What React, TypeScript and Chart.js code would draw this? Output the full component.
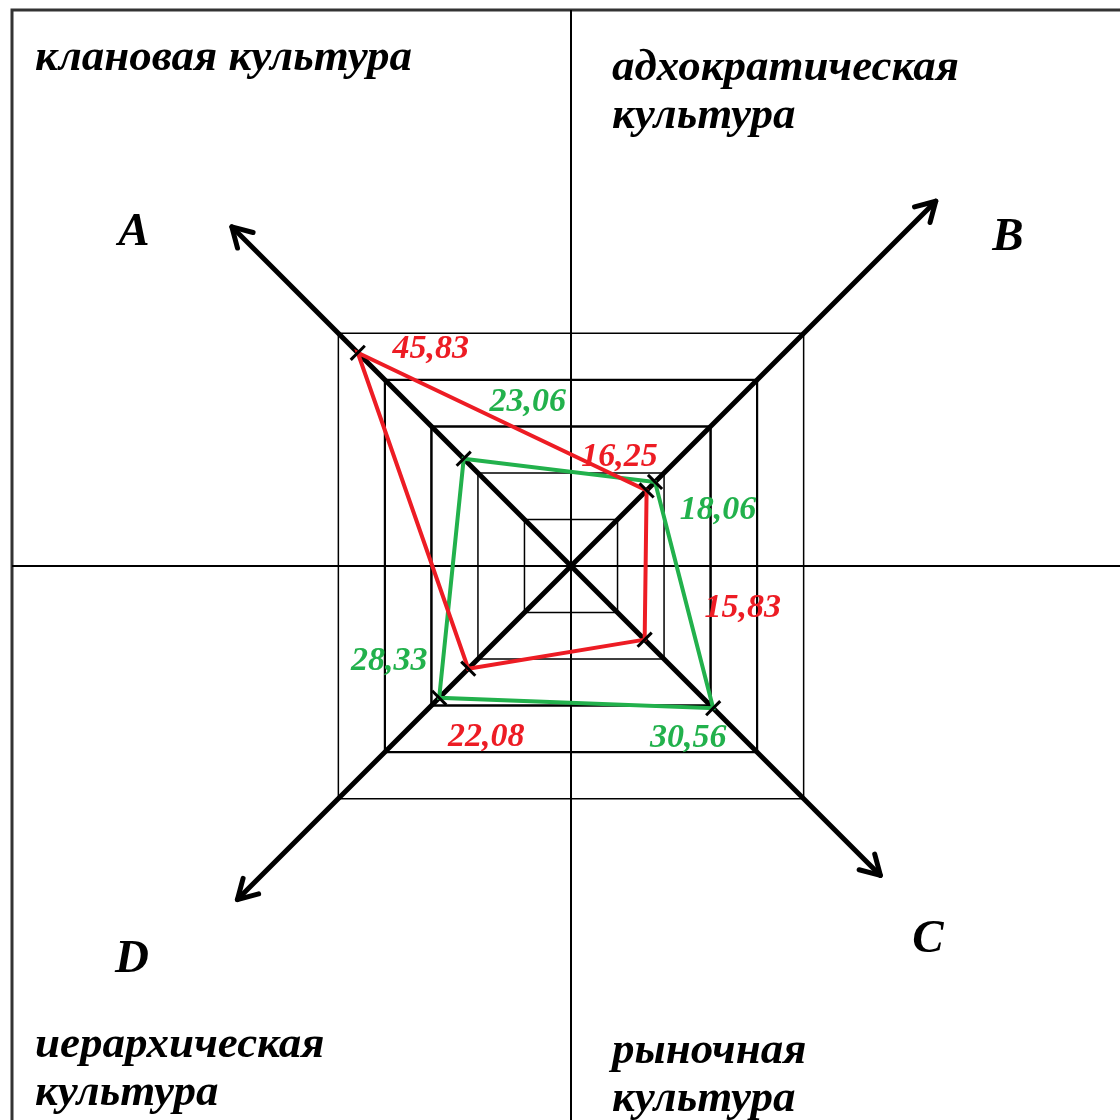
import React, { useEffect, useRef } from 'react';
import { Chart, registerables } from 'chart.js';

Chart.register(...registerables);

// ---------- data ----------
const AXIS_LABELS = ['A', 'B', 'C', 'D'];
const RED_VALUES = [45.83, 16.25, 15.83, 22.08];
const GREEN_VALUES = [23.06, 18.06, 30.56, 28.33];
const SCALE_MIN = 0;
const SCALE_MAX = 50;
const SCALE_STEP = 10;
const TITLE_TOP_LEFT = ['клановая культура'];
const TITLE_TOP_RIGHT = ['адхократическая', 'культура'];
const TITLE_BOTTOM_RIGHT = ['рыночная', 'культура'];
const TITLE_BOTTOM_LEFT = ['иерархическая', 'культура'];

// ---------- layout / style ----------
const W = 1120;
const H = 1120;
const RED = '#ED1C24';
const GREEN = '#22B14C';
const SERIF = '"Liberation Serif", "Times New Roman", serif';
const TITLE_FONT = `italic bold 45px ${SERIF}`;
const LETTER_FONT = `italic bold 47px ${SERIF}`;
const VALUE_FONT = `italic bold 34px ${SERIF}`;
const GRID_WIDTHS = [0, 1.5, 1.5, 2.5, 2.2, 1.5];
const AXIS_EXTENT = [72.9, 78.4, 66.5, 71.7];
const RED_LABEL_OFFSETS = [[73, 5], [-27, -24], [98, -23], [18, 77]];
const GREEN_LABEL_OFFSETS = [[64, -48], [63, 37], [-25, 39], [-50, -28]];
const LETTER_POS = [[134, 245], [1008, 250], [928, 952], [132, 972]];
const TITLE_BLOCKS = [
  { lines: TITLE_TOP_LEFT, x: 35, y: 70 },
  { lines: TITLE_TOP_RIGHT, x: 612, y: 80 },
  { lines: TITLE_BOTTOM_RIGHT, x: 612, y: 1063 },
  { lines: TITLE_BOTTOM_LEFT, x: 35, y: 1057 },
];
const LINE_GAP = 48;
const FRAME_X = 12;
const FRAME_Y = 10;

const fmt = (v: number) => v.toFixed(2).replace('.', ',');

const framePlugin = {
  id: 'frameAndAxes',
  beforeDatasetsDraw(chart: any) {
    const ctx = chart.ctx;
    const r = chart.scales.r;
    const cx = r.xCenter;
    const cy = r.yCenter;
    ctx.save();
    // outer frame
    ctx.strokeStyle = '#333';
    ctx.lineWidth = 3;
    ctx.beginPath();
    ctx.moveTo(FRAME_X, H);
    ctx.lineTo(FRAME_X, FRAME_Y);
    ctx.lineTo(W, FRAME_Y);
    ctx.stroke();
    // quadrant lines
    ctx.strokeStyle = '#000';
    ctx.lineWidth = 2;
    ctx.beginPath();
    ctx.moveTo(cx, FRAME_Y);
    ctx.lineTo(cx, H);
    ctx.moveTo(FRAME_X, cy);
    ctx.lineTo(W, cy);
    ctx.stroke();
    // diagonal arrows
    ctx.lineWidth = 5;
    ctx.lineCap = 'round';
    ctx.lineJoin = 'round';
    AXIS_LABELS.forEach((_, i) => {
      const tip = r.getPointPositionForValue(i, AXIS_EXTENT[i]);
      ctx.beginPath();
      ctx.moveTo(cx, cy);
      ctx.lineTo(tip.x, tip.y);
      ctx.stroke();
      const ang = Math.atan2(tip.y - cy, tip.x - cx);
      const len = 22;
      const spread = (30 * Math.PI) / 180;
      ctx.beginPath();
      ctx.moveTo(tip.x - len * Math.cos(ang - spread), tip.y - len * Math.sin(ang - spread));
      ctx.lineTo(tip.x, tip.y);
      ctx.lineTo(tip.x - len * Math.cos(ang + spread), tip.y - len * Math.sin(ang + spread));
      ctx.stroke();
    });
    ctx.restore();
  },
  afterDatasetsDraw(chart: any) {
    const ctx = chart.ctx;
    ctx.save();
    // value labels
    ctx.font = VALUE_FONT;
    ctx.textAlign = 'center';
    ctx.textBaseline = 'alphabetic';
    const offsets = [RED_LABEL_OFFSETS, GREEN_LABEL_OFFSETS];
    chart.data.datasets.forEach((ds: any, di: number) => {
      const meta = chart.getDatasetMeta(di);
      ctx.fillStyle = ds.borderColor;
      meta.data.forEach((pt: any, i: number) => {
        const [ox, oy] = offsets[di][i];
        ctx.fillText(fmt(ds.data[i]), pt.x + ox, pt.y + oy);
      });
    });
    // axis letters
    ctx.fillStyle = '#000';
    ctx.font = LETTER_FONT;
    AXIS_LABELS.forEach((l, i) => {
      ctx.fillText(l, LETTER_POS[i][0], LETTER_POS[i][1]);
    });
    // quadrant titles
    ctx.font = TITLE_FONT;
    ctx.textAlign = 'left';
    TITLE_BLOCKS.forEach((b) => {
      b.lines.forEach((line, k) => ctx.fillText(line, b.x, b.y + k * LINE_GAP));
    });
    ctx.restore();
  },
};

export default function App() {
  const ref = useRef<HTMLCanvasElement | null>(null);
  useEffect(() => {
    if (!ref.current) return;
    const pointRotation = [-45, 45, -45, 45];
    const chart = new Chart(ref.current, {
      type: 'radar',
      data: {
        labels: AXIS_LABELS,
        datasets: [
          {
            label: 'red',
            data: RED_VALUES,
            borderColor: RED,
            backgroundColor: 'transparent',
            borderWidth: 4,
            fill: false,
            pointStyle: 'line',
            pointRadius: 10,
            pointBorderWidth: 3,
            pointBorderColor: '#000',
            pointRotation,
          },
          {
            label: 'green',
            data: GREEN_VALUES,
            borderColor: GREEN,
            backgroundColor: 'transparent',
            borderWidth: 4,
            fill: false,
            pointStyle: 'line',
            pointRadius: 10,
            pointBorderWidth: 3,
            pointBorderColor: '#000',
            pointRotation,
          },
        ],
      },
      options: {
        animation: false,
        responsive: false,
        events: [],
        layout: { padding: { left: 242, right: 220, top: 237, bottom: 225 } },
        elements: { line: { tension: 0 } },
        plugins: { legend: { display: false }, tooltip: { enabled: false } },
        scales: {
          r: {
            min: SCALE_MIN,
            max: SCALE_MAX,
            startAngle: -45,
            ticks: { display: false, stepSize: SCALE_STEP },
            pointLabels: { display: false },
            angleLines: { display: false },
            grid: {
              color: '#000',
              lineWidth: (c: any) => GRID_WIDTHS[c.index] ?? 1.5,
            },
          },
        },
      },
      plugins: [framePlugin],
    } as any);
    return () => chart.destroy();
  }, []);
  return (
    <canvas
      ref={ref}
      width={W}
      height={H}
      style={{ position: 'absolute', left: 0, top: 0, width: W, height: H, background: '#fff' }}
    />
  );
}
